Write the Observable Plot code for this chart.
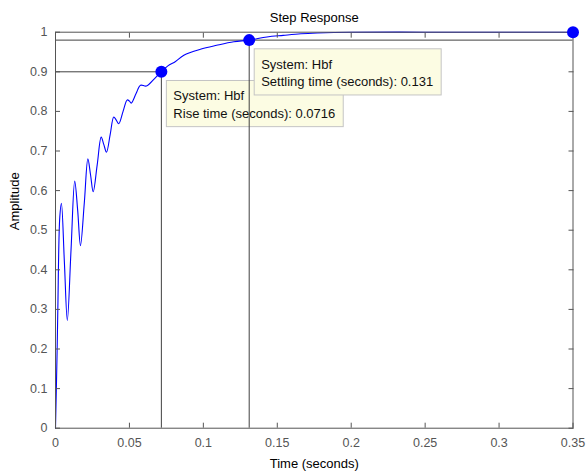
<!DOCTYPE html>
<html><head><meta charset="utf-8">
<script src="https://cdn.jsdelivr.net/npm/d3@7"></script>
<script src="https://cdn.jsdelivr.net/npm/@observablehq/plot@0.6"></script>
<style>body{margin:0;background:#fff} svg{display:block}</style>
</head><body><div id="chart"></div>
<script>
// Step response samples
const time = [0, 0.0011, 0.0016, 0.0029, 0.0040, 0.0060, 0.0080, 0.0105, 0.0130, 0.0150, 0.0169, 0.0195, 0.0219, 0.0237, 0.0255, 0.0282, 0.0309, 0.0327, 0.0345, 0.0370, 0.0394, 0.0411, 0.0428, 0.0457, 0.0485, 0.0500, 0.0512, 0.0545, 0.0575, 0.0615, 0.0670, 0.0716, 0.0760, 0.0812, 0.0868, 0.0980, 0.1090, 0.1206, 0.1310, 0.1430, 0.1540, 0.1660, 0.1770, 0.2000, 0.2500, 0.3000, 0.3500];
const amplitude = [0, 0.196, 0.306, 0.533, 0.568, 0.420, 0.272, 0.450, 0.624, 0.550, 0.461, 0.570, 0.680, 0.640, 0.597, 0.665, 0.735, 0.716, 0.697, 0.742, 0.786, 0.778, 0.769, 0.800, 0.829, 0.826, 0.821, 0.845, 0.866, 0.864, 0.883, 0.900, 0.915, 0.926, 0.942, 0.957, 0.967, 0.976, 0.980, 0.988, 0.992, 0.996, 0.998, 1.000, 1.000, 1.000, 1.000];

const xTicks = [0, 0.05, 0.1, 0.15, 0.2, 0.25, 0.3, 0.35];
const yTicks = [0, 0.1, 0.2, 0.3, 0.4, 0.5, 0.6, 0.7, 0.8, 0.9, 1];

const riseTime = 0.0716, riseLevel = 0.9;
const settleTime = 0.131, settleLevel = 0.98;
const finalTime = 0.35, finalValue = 1;
const markerTimes = [riseTime, settleTime, finalTime];
const markerValues = [riseLevel, settleLevel, finalValue];

const tipRise = ["System: Hbf", "Rise time (seconds): 0.0716"];
const tipSettle = ["System: Hbf", "Settling time (seconds): 0.131"];

const titleText = "Step Response";
const xLabel = "Time (seconds)";
const yLabel = "Amplitude";

const font = "'Liberation Sans', Arial, sans-serif";
const refColor = "#404040";
const axisColor = "#555";

const tipOpts = {textAnchor: "start", lineAnchor: "top", lineHeight: 1.32, fontSize: 13, fill: "#111", dx: 12, dy: 16.5, ariaLabel: "datatip"};

const plot = Plot.plot({
  width: 587, height: 471,
  marginLeft: 55, marginRight: 14.5, marginTop: 31.7, marginBottom: 43.3,
  x: {domain: [0, 0.35]},
  y: {domain: [0, 1]},
  style: {fontFamily: font, background: "#fff", overflow: "visible"},
  marks: [
    Plot.ruleY([riseLevel], {x1: 0, x2: riseTime, stroke: refColor}),
    Plot.ruleX([riseTime], {y1: 0, y2: riseLevel, stroke: refColor}),
    Plot.ruleY([settleLevel], {stroke: refColor}),
    Plot.line(time, {x: time, y: amplitude, stroke: "#0000ff", strokeWidth: 1.1, curve: "catmull-rom"}),
    Plot.text([tipRise.join("\n")], {x: [riseTime], y: [riseLevel], ...tipOpts}),
    Plot.ruleX([settleTime], {y1: 0, y2: settleLevel, stroke: refColor}),
    Plot.text([tipSettle.join("\n")], {x: [settleTime], y: [settleLevel], ...tipOpts}),
    Plot.frame({stroke: axisColor}),
    Plot.axisX(xTicks, {anchor: "bottom", tickSize: -5, tickPadding: 14.6, tickFormat: d => String(d), fontSize: 12.5, color: axisColor, label: null}),
    Plot.axisX(xTicks, {anchor: "top", tickSize: -5, tickFormat: () => "", color: axisColor, label: null}),
    Plot.axisY(yTicks, {anchor: "left", tickSize: -5, tickPadding: 13, tickFormat: d => String(d), fontSize: 12.5, color: axisColor, label: null}),
    Plot.axisY(yTicks, {anchor: "right", tickSize: -5, tickFormat: () => "", color: axisColor, label: null}),
    Plot.dot(markerTimes, {x: markerTimes, y: markerValues, r: 6, fill: "#0000ff", stroke: null}),
    Plot.text([titleText], {frameAnchor: "top", lineAnchor: "bottom", dy: -10, fontSize: 13, fill: "#000"}),
    Plot.text([xLabel], {frameAnchor: "bottom", lineAnchor: "bottom", dy: 39.3, fontSize: 13, fill: "#000"}),
    Plot.text([yLabel], {frameAnchor: "left", rotate: -90, lineAnchor: "middle", dx: -41, fontSize: 13, fill: "#000"})
  ]
});
document.getElementById("chart").appendChild(plot);

// Data-tip boxes behind the tip texts
plot.querySelectorAll('text').forEach(t => {
  if (!t.textContent.startsWith("System")) return;
  const b = t.getBBox();
  const rect = document.createElementNS("http://www.w3.org/2000/svg", "rect");
  rect.setAttribute("x", b.x - 7);
  rect.setAttribute("y", b.y - 8);
  rect.setAttribute("width", b.width + 15);
  rect.setAttribute("height", b.height + 14);
  rect.setAttribute("fill", "#fcfce3");
  rect.setAttribute("stroke", "#c4c4c4");
  const tr = t.getAttribute("transform");
  if (tr) rect.setAttribute("transform", tr);
  t.parentNode.insertBefore(rect, t);
});
</script>
</body></html>
